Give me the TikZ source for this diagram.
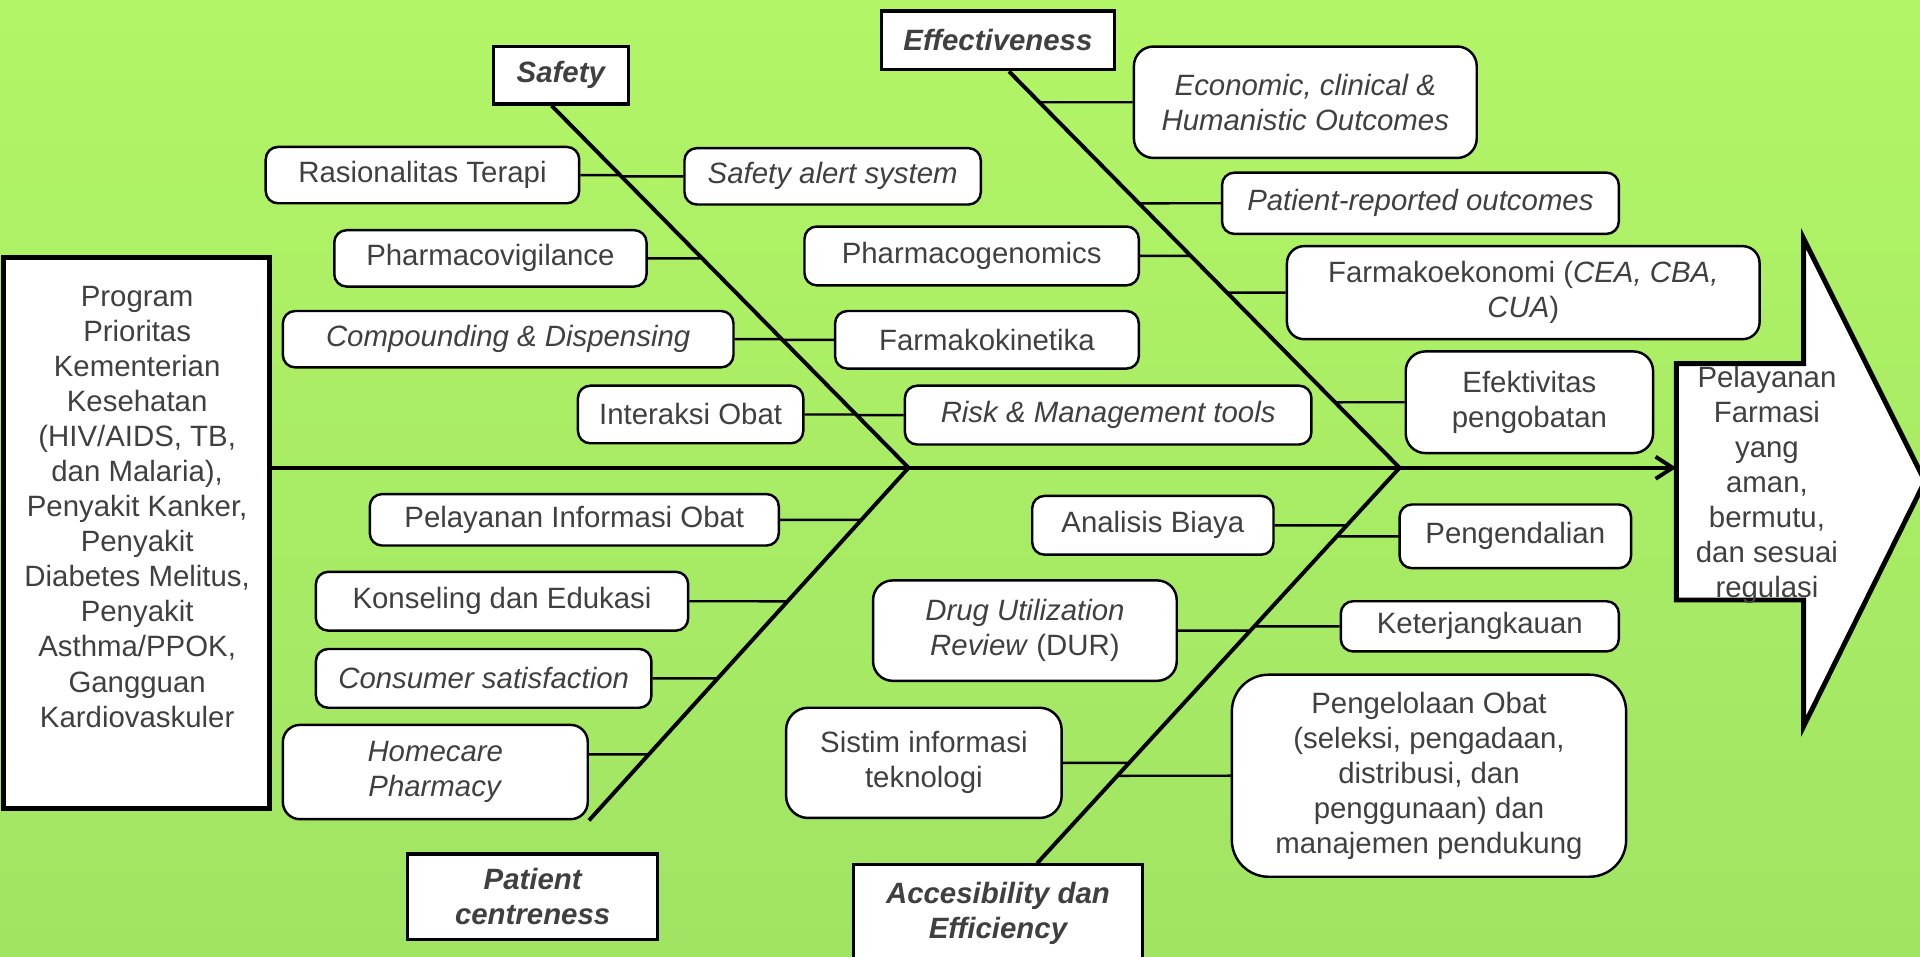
\documentclass[tikz,border=0pt]{standalone}
\usepackage{fontspec}
\setmainfont{Liberation Sans}
\usetikzlibrary{arrows.meta,calc}
\definecolor{txt}{HTML}{404040}
\definecolor{bgtop}{RGB}{178,245,102}
\definecolor{bgmid}{RGB}{146,224,76}
\definecolor{bgbot}{RGB}{160,228,100}
\tikzset{
  rbox/.style={draw=black, fill=white, line width=1pt, rounded corners=5pt, align=center, inner sep=1pt, text=txt},
  catbox/.style={draw=black, fill=white, line width=1.3pt, align=center, inner sep=1pt, text=txt, font=\fontsize{12}{14.3}\selectfont\bfseries\itshape},
  conn/.style={line width=1pt},
  bone/.style={line width=1.6pt, line join=miter},
}
\begin{document}
\begin{tikzpicture}[x=0.5pt,y=-0.5pt,font=\fontsize{12}{14.3}\selectfont]
\useasboundingbox (0,0) rectangle (1568,781);
\shade[top color=bgtop, middle color=bgmid, bottom color=bgbot] (0,0) rectangle (1568,781);

% left box
\node[draw=black, fill=white, line width=2pt, minimum width=108.5pt, minimum height=225pt, inner sep=0pt] (prog) at (111.5,435) {};
\node[text=txt, align=center, inner sep=0pt] (progtxt) at (112,414) {Program\\Prioritas\\Kementerian\\Kesehatan\\(HIV/AIDS, TB,\\dan Malaria),\\Penyakit Kanker,\\Penyakit\\Diabetes Melitus,\\Penyakit\\Asthma/PPOK,\\Gangguan\\Kardiovaskuler};

% goal block arrow
\draw[line width=2pt, fill=white, line join=miter] (1369,297) -- (1473,297) -- (1473,195) -- (1572,393) -- (1473,593) -- (1473,490) -- (1369,490) -- cycle;
\coordinate (goalw) at (1369,382);
\node[text=txt, align=center, inner sep=0pt] (goal) at (1443,396) {Pelayanan\\Farmasi\\yang\\aman,\\bermutu,\\dan sesuai\\regulasi};

% category boxes
\node[catbox, minimum width=55pt, minimum height=23.5pt] (safety) at (458,61.5) {Safety};
\node[catbox, minimum width=95pt, minimum height=24pt] (eff) at (815,33) {Effectiveness};
\node[catbox, minimum width=102pt, minimum height=35pt] (pc) at (435,732.5) {Patient\\centreness};
\node[catbox, minimum width=118pt, minimum height=40pt, anchor=north] (acc) at (815,705) {Accesibility dan\\Efficiency};

% Safety items
\node[rbox, minimum width=128pt, minimum height=23pt] (ras) at (345,143) {Rasionalitas Terapi};
\node[rbox, minimum width=121pt, minimum height=23pt] (sas) at (680,144) {\textit{Safety alert system}};
\node[rbox, minimum width=127.5pt, minimum height=23pt] (pv) at (400.5,211) {Pharmacovigilance};
\node[rbox, minimum width=184pt, minimum height=23pt] (cd) at (415,277) {\textit{Compounding \& Dispensing}};
\node[rbox, minimum width=124pt, minimum height=23.5pt] (fk) at (806,277.5) {Farmakokinetika};
\node[rbox, minimum width=92pt, minimum height=23.5pt] (io) at (564,338.5) {Interaksi Obat};
\node[rbox, minimum width=166pt, minimum height=24pt] (rm) at (905,339) {\textit{Risk \& Management tools}};

% Effectiveness items
\node[rbox, minimum width=140pt, minimum height=45.5pt, rounded corners=8pt] (eco) at (1066,83.5) {\textit{Economic, clinical \&}\\\textit{Humanistic Outcomes}};
\node[rbox, minimum width=162pt, minimum height=25pt] (pro) at (1160,166) {\textit{Patient-reported outcomes}};
\node[rbox, minimum width=136.5pt, minimum height=24pt] (pg) at (793.5,209) {Pharmacogenomics};
\node[rbox, minimum width=193pt, minimum height=38pt, rounded corners=7pt] (fe) at (1244,239) {Farmakoekonomi (\textit{CEA, CBA,}\\\textit{CUA})};
\node[rbox, minimum width=101pt, minimum height=41.5pt, rounded corners=8pt] (ef) at (1249,328.5) {Efektivitas\\pengobatan};

% Patient centreness items
\node[rbox, minimum width=167pt, minimum height=21pt] (pio) at (469,424.5) {Pelayanan Informasi Obat};
\node[rbox, minimum width=152pt, minimum height=24pt] (ke) at (410,491) {Konseling dan Edukasi};
\node[rbox, minimum width=137pt, minimum height=24pt] (cs) at (395,554) {\textit{Consumer satisfaction}};
\node[rbox, minimum width=124.5pt, minimum height=38.5pt, rounded corners=7pt] (hp) at (355.5,630.5) {\textit{Homecare}\\\textit{Pharmacy}};

% Accessibility items
\node[rbox, minimum width=98.5pt, minimum height=24pt] (ab) at (941.5,429) {Analisis Biaya};
\node[rbox, minimum width=94.5pt, minimum height=26pt] (pe) at (1237.5,438) {Pengendalian};
\node[rbox, minimum width=124pt, minimum height=41pt, rounded corners=8pt] (dur) at (837,515) {\textit{Drug Utilization}\\\textit{Review} (DUR)};
\node[rbox, minimum width=113.5pt, minimum height=20.5pt] (kt) at (1208.5,511.5) {Keterjangkauan};
\node[rbox, minimum width=112.5pt, minimum height=45pt, rounded corners=9pt] (si) at (754.5,623) {Sistim informasi\\teknologi};
\node[rbox, minimum width=161pt, minimum height=82.5pt, rounded corners=15pt] (po) at (1167,633.5) {Pengelolaan Obat\\(seleksi, pengadaan,\\distribusi, dan\\penggunaan) dan\\manajemen pendukung};

% spine and bones
\coordinate (j1) at (742,382);
\coordinate (j2) at (1143,382);
\coordinate (s0) at ([xshift=-3.75pt]safety.south);
\coordinate (e0) at ([xshift=4.5pt]eff.south);
\coordinate (a0) at ([xshift=16pt]acc.north);
\coordinate (p0) at (hp.south east);
\draw[line width=1.6pt, -{Straight Barb[length=7pt,width=9pt,line width=1.6pt]}] (prog.east |- j1) -- (goalw);
\draw[bone] (s0) -- (j1) -- (p0);
\draw[bone] (e0) -- (j2) -- (a0);

% connectors
\foreach \n in {ras,pv,cd,io}
  \draw[conn] (\n.east) -- (intersection of \n.west--\n.east and s0--j1);
\foreach \n in {sas,fk,rm}
  \draw[conn] (\n.west) -- (intersection of \n.west--\n.east and s0--j1);
\foreach \n in {pg}
  \draw[conn] (\n.east) -- (intersection of \n.west--\n.east and e0--j2);
\foreach \n in {eco,pro,fe,ef}
  \draw[conn] (\n.west) -- (intersection of \n.west--\n.east and e0--j2);
\foreach \n in {pio,ke,cs}
  \draw[conn] (\n.east) -- (intersection of \n.west--\n.east and j1--p0);
\coordinate (hpa) at ([yshift=7.25pt]hp.east);
\coordinate (hpb) at ([yshift=7.25pt]hp.west);
\draw[conn] (hpa) -- (intersection of hpb--hpa and j1--p0);
\foreach \n in {ab,dur,si}
  \draw[conn] (\n.east) -- (intersection of \n.west--\n.east and j2--a0);
\foreach \n in {pe,kt,po}
  \draw[conn] (\n.west) -- (intersection of \n.west--\n.east and j2--a0);
\end{tikzpicture}
\end{document}
